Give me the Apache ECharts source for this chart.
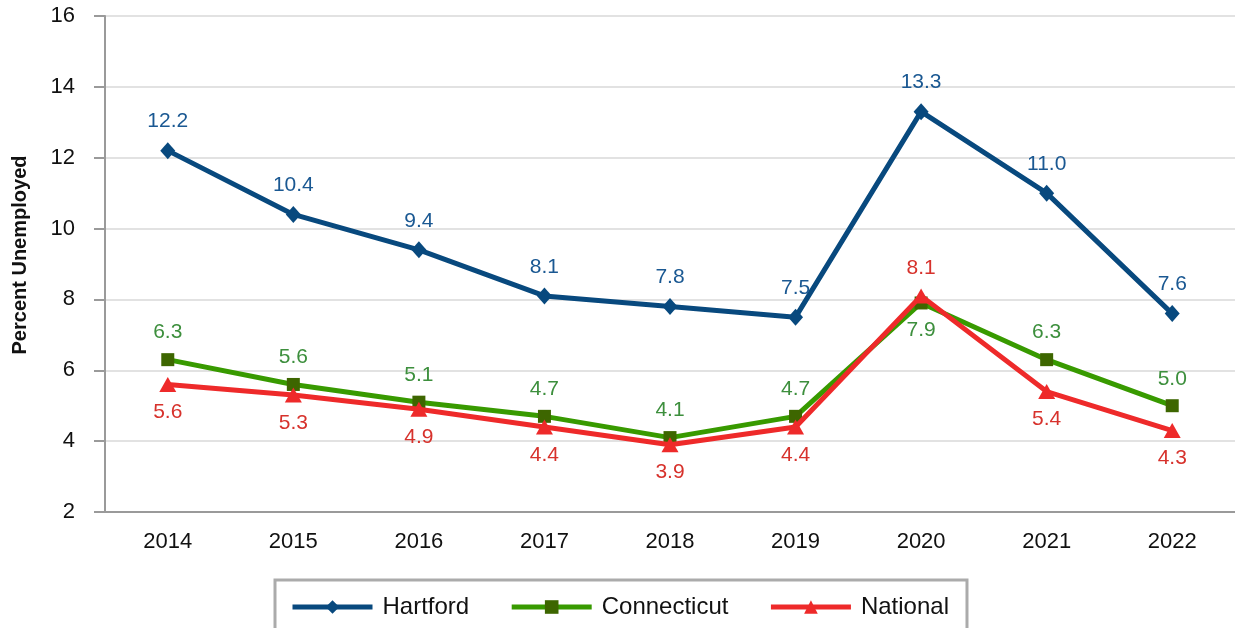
<!DOCTYPE html>
<html>
<head>
<meta charset="utf-8">
<script src="https://cdn.jsdelivr.net/npm/echarts@6/dist/echarts.min.js"></script>
<style>
  html, body { margin: 0; padding: 0; background: #fff; }
  #chart { width: 1235px; height: 628px; }
</style>
</head>
<body>
<div id="chart"></div>
<script>
// Unemployment rate by year, Hartford vs. state vs. nation
const years = ['2014', '2015', '2016', '2017', '2018', '2019', '2020', '2021', '2022'];
const hartford = [12.2, 10.4, 9.4, 8.1, 7.8, 7.5, 13.3, 11.0, 7.6];
const connecticut = [6.3, 5.6, 5.1, 4.7, 4.1, 4.7, 7.9, 6.3, 5.0];
const national = [5.6, 5.3, 4.9, 4.4, 3.9, 4.4, 8.1, 5.4, 4.3];

const FONT = 'Liberation Sans, Arial, sans-serif';

// Connecticut label sits below the point in 2020; National above it
const ctData = connecticut.map((v, i) => years[i] === '2020'
  ? { value: v, label: { position: 'bottom' } } : v);
const natData = national.map((v, i) => years[i] === '2020'
  ? { value: v, label: { position: 'top' } } : v);

const labelBase = (color, pos) => ({
  show: true,
  position: pos,
  distance: 10,
  fontFamily: FONT,
  fontSize: 21,
  color: color,
  formatter: p => Number(p.value).toFixed(1)
});

const chart = echarts.init(document.getElementById('chart'), null, { renderer: 'canvas' });
chart.setOption({
  animation: false,
  backgroundColor: '#ffffff',
  textStyle: { fontFamily: FONT },
  grid: { left: 105, top: 16, width: 1134, height: 496, containLabel: false },
  legend: {
    left: 275,
    top: 580,
    padding: [15, 18, 30, 15],
    borderColor: '#ababab',
    borderWidth: 3,
    itemWidth: 80,
    itemHeight: 17,
    itemGap: 40,
    textStyle: { fontFamily: FONT, fontSize: 24, color: '#111', padding: [0, 0, 0, 5] },
    data: [
      { name: 'Hartford', lineStyle: { width: 5 } },
      { name: 'Connecticut', lineStyle: { width: 5 } },
      { name: 'National', lineStyle: { width: 5 } }
    ]
  },
  xAxis: {
    type: 'category',
    data: years,
    boundaryGap: true,
    axisLine: { lineStyle: { color: '#9a9a9a', width: 2 } },
    axisTick: { alignWithLabel: true, length: 10, lineStyle: { color: '#9a9a9a', width: 2 } },
    axisLabel: { margin: 19, fontFamily: FONT, fontSize: 22, color: '#111' },
    splitLine: { show: false }
  },
  yAxis: {
    type: 'value',
    min: 2,
    max: 16,
    interval: 2,
    name: 'Percent Unemployed',
    nameLocation: 'middle',
    nameRotate: 90,
    nameGap: 75,
    nameTextStyle: { fontFamily: FONT, fontSize: 20, fontWeight: 'bold', color: '#111', padding: [0, 0, 0, 18] },
    axisLine: { show: true, lineStyle: { color: '#9a9a9a', width: 2 } },
    axisTick: { show: true, length: 11, lineStyle: { color: '#9a9a9a', width: 2 } },
    axisLabel: { margin: 30, fontFamily: FONT, fontSize: 22, color: '#111' },
    splitLine: { lineStyle: { color: '#e2e2e2', width: 2 } }
  },
  series: [
    {
      name: 'Hartford',
      type: 'line',
      data: hartford,
      z: 4,
      symbol: 'diamond',
      symbolSize: [15, 17],
      lineStyle: { color: '#08497e', width: 5 },
      itemStyle: { color: '#08497e' },
      label: labelBase('#1a5892', 'top')
    },
    {
      name: 'Connecticut',
      type: 'line',
      data: ctData,
      z: 2,
      symbol: 'rect',
      symbolSize: 13,
      lineStyle: { color: '#389a00', width: 5 },
      itemStyle: { color: '#3d6600' },
      label: labelBase('#3d8f3d', 'top')
    },
    {
      name: 'National',
      type: 'line',
      data: natData,
      z: 3,
      symbol: 'triangle',
      symbolSize: [17, 15],
      lineStyle: { color: '#ee2a2a', width: 5 },
      itemStyle: { color: '#ee2a2a' },
      label: labelBase('#d7322c', 'bottom')
    }
  ]
});
</script>
</body>
</html>
